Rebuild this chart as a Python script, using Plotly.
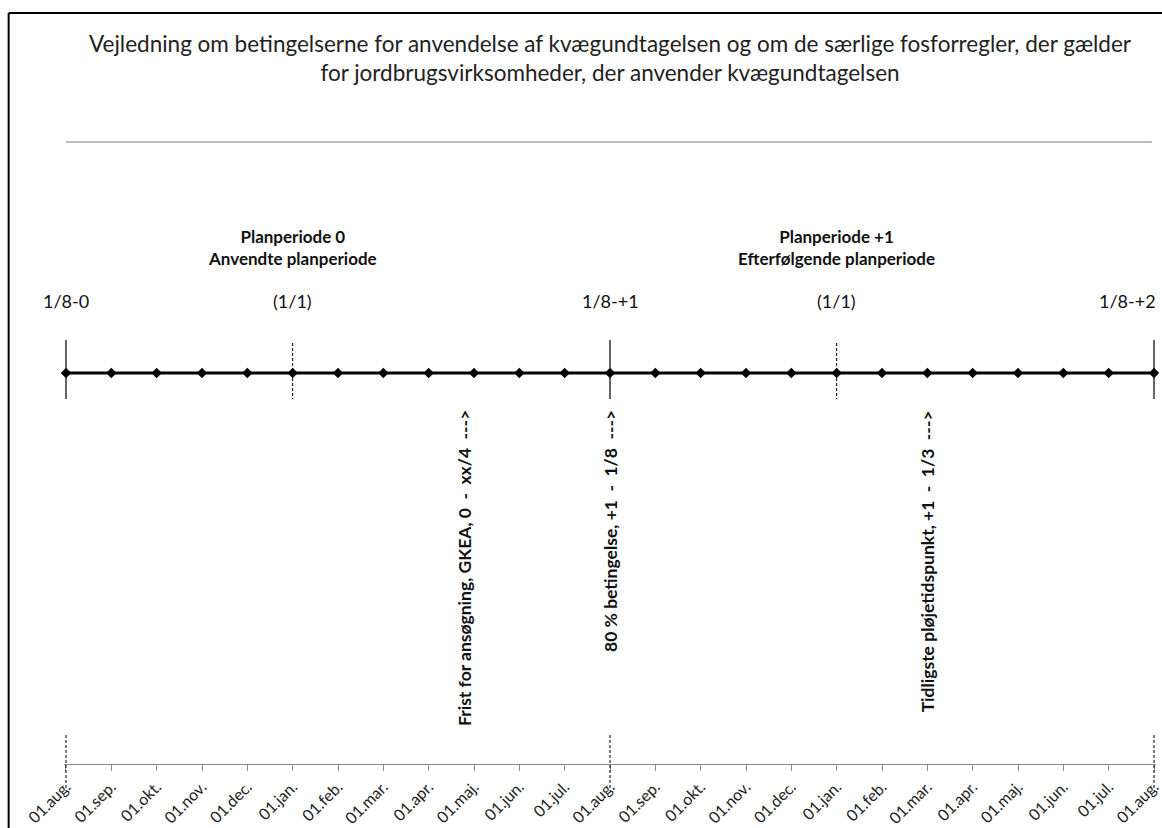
import plotly.graph_objects as go

# ---------------- data ----------------
month_labels = ["01.aug.", "01.sep.", "01.okt.", "01.nov.", "01.dec.", "01.jan.",
                "01.feb.", "01.mar.", "01.apr.", "01.maj.", "01.jun.", "01.jul.",
                "01.aug.", "01.sep.", "01.okt.", "01.nov.", "01.dec.", "01.jan.",
                "01.feb.", "01.mar.", "01.apr.", "01.maj.", "01.jun.", "01.jul.",
                "01.aug."]
month_index = list(range(len(month_labels)))
timeline_level = [0] * len(month_labels)

period_bounds = [0, 12, 24]
period_bound_labels = ["1/8-0", "1/8-+1", "1/8-+2"]
year_breaks = [5, 17]
year_break_labels = ["(1/1)", "(1/1)"]

period_titles = ["Planperiode 0<br>Anvendte planperiode",
                 "Planperiode +1<br>Efterfølgende planperiode"]
period_title_pos = [5, 17]

event_pos = [8.78, 12, 19]
event_labels = [
    "Frist for ansøgning, GKEA, 0\u00a0\u00a0-\u00a0\u00a0xx/4\u00a0\u00a0--->",
    "80 % betingelse, +1\u00a0\u00a0-\u00a0\u00a01/8\u00a0\u00a0--->",
    "Tidligste pløjetidspunkt, +1\u00a0\u00a0-\u00a0\u00a01/3\u00a0\u00a0--->",
]

title_text = ("Vejledning om betingelserne for anvendelse af kvægundtagelsen og om de særlige fosforregler, der gælder"
              "<br>for jordbrugsvirksomheder, der anvender kvægundtagelsen")

FONT = "Lato"
W, H = 1162, 828
L, R = 64, 3

fig = go.Figure()

# main timeline with monthly diamonds
fig.add_trace(go.Scatter(
    x=month_index, y=timeline_level, mode="lines+markers",
    line=dict(color="black", width=3),
    marker=dict(symbol="diamond", size=8, color="black"),
    cliponaxis=False, hoverinfo="skip", showlegend=False))

shapes = []
annotations = []
PW = W - L - R

# frame (left and top edges; the rest lies outside the picture)
fx0 = (8.5 - L) / PW
fy1 = 1 - 13 / H
shapes.append(dict(type="line", xref="paper", yref="paper", x0=fx0, x1=fx0, y0=-0.1, y1=fy1,
                   line=dict(color="black", width=2)))
shapes.append(dict(type="line", xref="paper", yref="paper", x0=fx0, x1=1.1, y0=fy1, y1=fy1,
                   line=dict(color="black", width=2)))
# grey separator under title
shapes.append(dict(type="line", xref="x", yref="y", x0=0, x1=23.95, y0=231, y1=231,
                   line=dict(color="#a6a6a6", width=1.5)))

# solid period boundaries
for xb in period_bounds:
    shapes.append(dict(type="line", xref="x", yref="y", x0=xb, x1=xb, y0=33, y1=-26,
                       line=dict(color="black", width=1.2)))
    shapes.append(dict(type="line", xref="x", yref="y", x0=xb, x1=xb, y0=-362, y1=-418,
                       line=dict(color="black", width=1, dash="3px,2px")))
# dashed year breaks
for xb in year_breaks:
    shapes.append(dict(type="line", xref="x", yref="y", x0=xb, x1=xb, y0=30, y1=-26,
                       line=dict(color="black", width=1, dash="3px,2px")))

label_font = dict(family=FONT, size=18, color="#111")
# labels above timeline
for xb, lab in zip(period_bounds, period_bound_labels):
    if xb == period_bounds[-1]:
        annotations.append(dict(x=xb, y=72, xref="x", yref="y", text=lab, showarrow=False,
                                xanchor="right", yanchor="middle", xshift=4, font=label_font))
    else:
        annotations.append(dict(x=xb, y=72, xref="x", yref="y", text=lab, showarrow=False,
                                xanchor="center", yanchor="middle", font=label_font))
for xb, lab in zip(year_breaks, year_break_labels):
    annotations.append(dict(x=xb, y=72, xref="x", yref="y", text=lab, showarrow=False,
                            xanchor="center", yanchor="middle", font=label_font))

for xp, lab in zip(period_title_pos, period_titles):
    annotations.append(dict(x=xp, y=126, xref="x", yref="y", text="<b>" + lab + "</b>",
                            showarrow=False, xanchor="center", yanchor="middle",
                            font=dict(family=FONT, size=17, color="#111")))

for xp, lab in zip(event_pos, event_labels):
    annotations.append(dict(x=xp, y=-35, xref="x", yref="y", text="<b>" + lab + "</b>",
                            showarrow=False, textangle=-90, xanchor="center", yanchor="top",
                            font=dict(family=FONT, size=17.5, color="#111")))

fig.update_layout(
    width=W, height=H,
    margin=dict(l=L, r=R, t=0, b=0),
    paper_bgcolor="white", plot_bgcolor="white",
    title=dict(text=title_text, xref="paper", x=0.5, xanchor="center",
               yref="container", y=1 - 52 / H, yanchor="middle",
               font=dict(family=FONT, size=22.5, color="#222")),
    xaxis=dict(range=[-0.044, 24.044], anchor="free", position=64 / H,
               tickvals=month_index, ticktext=month_labels, tickangle=-45,
               ticks="outside", ticklen=6, tickcolor="#8c8c8c", tickwidth=1,
               showline=True, linecolor="#8c8c8c", linewidth=1.2,
               showgrid=False, zeroline=False, fixedrange=True,
               ticklabeloverflow="allow",
               tickfont=dict(family=FONT, size=16, color="#222")),
    yaxis=dict(range=[-455, 373], visible=False, fixedrange=True),
    shapes=shapes, annotations=annotations, showlegend=False,
)

fig.write_html("out.html",
               config={"displayModeBar": False, "staticPlot": True},
               post_script="document.body.style.margin='0px';"
                           "document.documentElement.style.overflow='hidden';")
